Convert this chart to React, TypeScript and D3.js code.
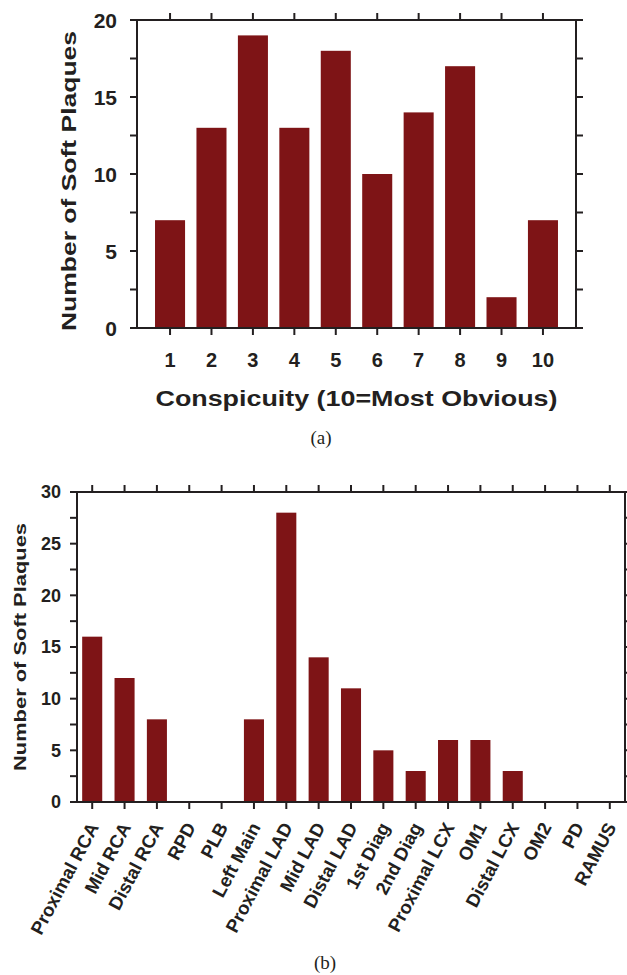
import React from 'react';
import * as d3 from 'd3';

// chart (a): conspicuity scores
const conspicuity = ['1', '2', '3', '4', '5', '6', '7', '8', '9', '10'];
const conspicuityCounts = [7, 13, 19, 13, 18, 10, 14, 17, 2, 7];
const aMajorTicks = [0, 5, 10, 15, 20];
const aMinorTicks = [0, 2.5, 5, 7.5, 10, 12.5, 15, 17.5, 20];

// chart (b): segment locations
const segments = [
  'Proximal RCA', 'Mid RCA', 'Distal RCA', 'RPD', 'PLB', 'Left Main',
  'Proximal LAD', 'Mid LAD', 'Distal LAD', '1st Diag', '2nd Diag',
  'Proximal LCX', 'OM1', 'Distal LCX', 'OM2', 'PD', 'RAMUS',
];
const segmentCounts = [16, 12, 8, 0, 0, 8, 28, 14, 11, 5, 3, 6, 6, 3, 0, 0, 0];
const bMajorTicks = [0, 5, 10, 15, 20, 25, 30];
const bMinorTicks = d3.range(0, 30.1, 2.5);

const INK = '#231f20';
const BAR = '#7e1416';
const SANS = '"Liberation Sans", Arial, Helvetica, sans-serif';
const SERIF = '"Liberation Serif", "Times New Roman", serif';

export default function App() {
  // ---- chart (a)
  const aL = 137, aR = 576, aT = 20, aB = 328;
  const ax = d3.scaleBand().domain(conspicuity).range([aL, aR]).paddingInner(0.275).paddingOuter(0.435);
  const ay = d3.scaleLinear().domain([0, 20]).range([aB, aT]);

  // ---- chart (b)
  const bL = 77, bR = 625, bT = 492, bB = 802;
  const bx = d3.scaleBand().domain(segments).range([bL, bR]).paddingInner(0.38).paddingOuter(0.16);
  const by = d3.scaleLinear().domain([0, 30]).range([bB, bT]);

  const tk = 7;

  return (
    <svg width={627} height={975} style={{ position: 'absolute', left: 0, top: 0 }}>
      <rect width={627} height={975} fill="#fff" />

      {/* (a) bars */}
      {conspicuity.map((c, i) => (
        <rect key={c} x={ax(c)} y={ay(conspicuityCounts[i])} width={ax.bandwidth()}
          height={aB - ay(conspicuityCounts[i])} fill={BAR} />
      ))}
      {/* (a) frame */}
      <rect x={aL} y={aT} width={aR - aL} height={aB - aT} fill="none" stroke={INK} strokeWidth={2} />
      {aMinorTicks.map(t => (
        <g key={t}>
          <line x1={aL - tk} x2={aL} y1={ay(t)} y2={ay(t)} stroke={INK} strokeWidth={2} />
          <line x1={aR} x2={aR + tk} y1={ay(t)} y2={ay(t)} stroke={INK} strokeWidth={2} />
        </g>
      ))}
      {aMajorTicks.map(t => (
        <text key={t} x={aL - 20} y={ay(t)} dy="0.36em" textAnchor="end" fontFamily={SANS}
          fontWeight="bold" fontSize={21} fill={INK}>{t}</text>
      ))}
      {conspicuity.map(c => {
        const cx = (ax(c) as number) + ax.bandwidth() / 2;
        return (
          <g key={c}>
            <line x1={cx} x2={cx} y1={aB} y2={aB + tk} stroke={INK} strokeWidth={2} />
            <line x1={cx} x2={cx} y1={aT - tk} y2={aT} stroke={INK} strokeWidth={2} />
            <text x={cx} y={367} textAnchor="middle" fontFamily={SANS} fontWeight="bold"
              fontSize={20} fill={INK}>{c}</text>
          </g>
        );
      })}
      <text x={(aL + aR) / 2} y={406} textAnchor="middle" fontFamily={SANS} fontWeight="bold"
        fontSize={22} fill={INK} textLength={402} lengthAdjust="spacingAndGlyphs">
        Conspicuity (10=Most Obvious)
      </text>
      <text transform={`translate(76, 181) rotate(-90)`} textAnchor="middle" fontFamily={SANS}
        fontWeight="bold" fontSize={21} fill={INK} textLength={300} lengthAdjust="spacingAndGlyphs">
        Number of Soft Plaques
      </text>
      <text x={321} y={444} textAnchor="middle" fontFamily={SERIF} fontSize={19} fill={INK}>(a)</text>

      {/* (b) bars */}
      {segments.map((s, i) => (
        <rect key={s} x={bx(s)} y={by(segmentCounts[i])} width={bx.bandwidth()}
          height={bB - by(segmentCounts[i])} fill={BAR} />
      ))}
      <rect x={bL} y={bT} width={bR - bL} height={bB - bT} fill="none" stroke={INK} strokeWidth={2} />
      {bMinorTicks.map(t => (
        <g key={t}>
          <line x1={bL - tk} x2={bL} y1={by(t)} y2={by(t)} stroke={INK} strokeWidth={2} />
          <line x1={bR} x2={bR + tk} y1={by(t)} y2={by(t)} stroke={INK} strokeWidth={2} />
        </g>
      ))}
      {bMajorTicks.map(t => (
        <text key={t} x={bL - 16} y={by(t)} dy="0.36em" textAnchor="end" fontFamily={SANS}
          fontWeight="bold" fontSize={18} fill={INK}>{t}</text>
      ))}
      {segments.map(s => {
        const cx = (bx(s) as number) + bx.bandwidth() / 2;
        return (
          <g key={s}>
            <line x1={cx} x2={cx} y1={bB} y2={bB + tk} stroke={INK} strokeWidth={2} />
            <line x1={cx} x2={cx} y1={bT - tk} y2={bT} stroke={INK} strokeWidth={2} />
            <text transform={`translate(${cx + 7}, 827) rotate(-62)`} textAnchor="end"
              fontFamily={SANS} fontWeight="bold" fontSize={18.5} fill={INK}>{s}</text>
          </g>
        );
      })}
      <text transform={`translate(26, 647) rotate(-90)`} textAnchor="middle" fontFamily={SANS}
        fontWeight="bold" fontSize={17} fill={INK} textLength={248} lengthAdjust="spacingAndGlyphs">
        Number of Soft Plaques
      </text>
      <text x={325} y={969} textAnchor="middle" fontFamily={SERIF} fontSize={19} fill={INK}>(b)</text>
    </svg>
  );
}
